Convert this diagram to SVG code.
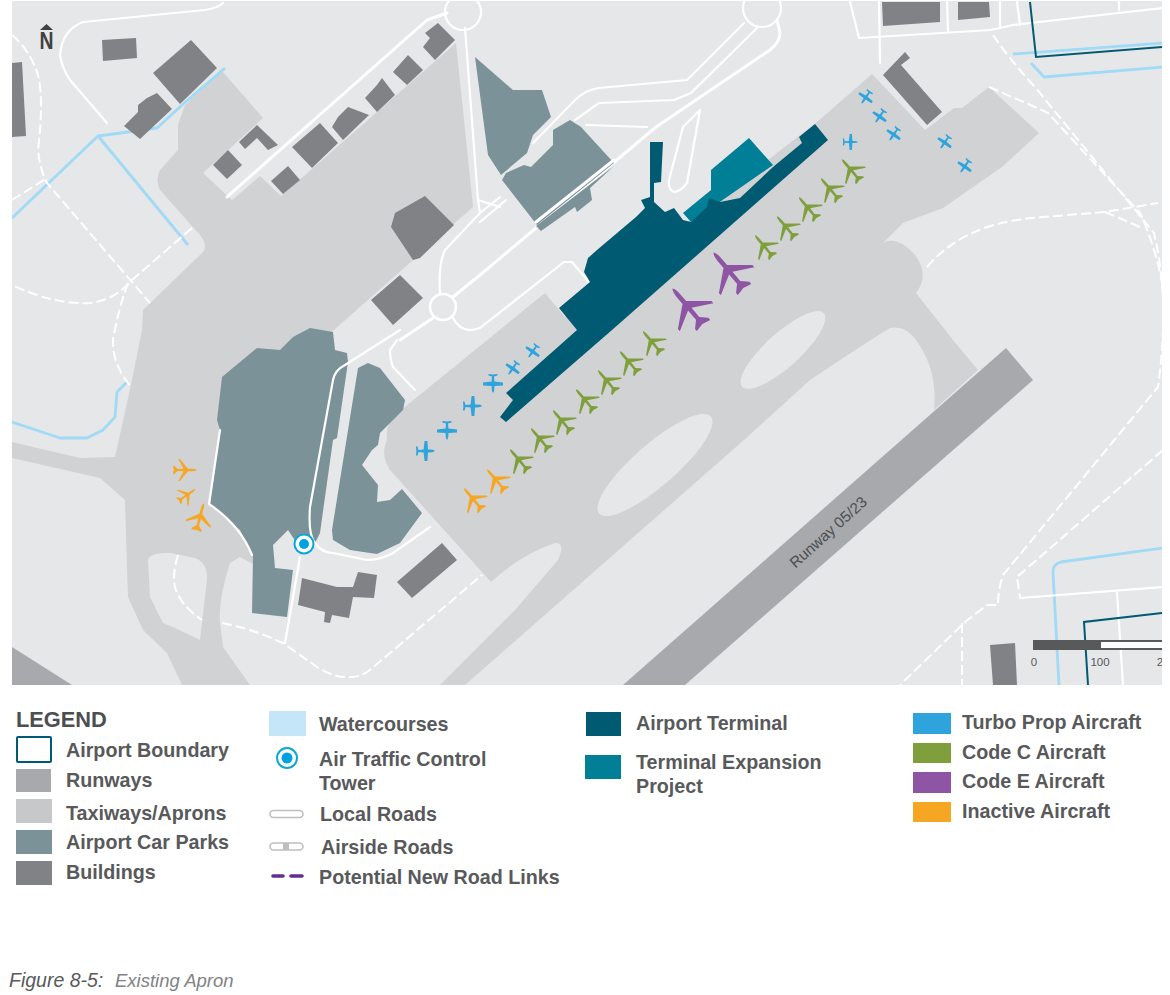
<svg xmlns="http://www.w3.org/2000/svg" xmlns:xlink="http://www.w3.org/1999/xlink" width="1170" height="995" viewBox="0 0 1170 995">
<style>
.tx{fill:#d1d2d4}.bg{fill:#e6e7e8}.rw{fill:#a7a9ac}.bd{fill:#808285}.cp{fill:#7c9299}
.r{fill:none;stroke:#fff;stroke-width:2.2;stroke-linecap:round;stroke-linejoin:round}
.d{fill:none;stroke:#fff;stroke-width:2;stroke-dasharray:10 4}
.w{fill:none;stroke:#a0daf6;stroke-width:2.8;stroke-linejoin:round}
.b{fill:none;stroke:#005a72;stroke-width:2}
.l{font:bold 19.7px "Liberation Sans",Arial,sans-serif;fill:#58595b}
.g{fill:#7f9f3c}.p{fill:#8e55a4}.o{fill:#f5a623}.t{fill:#2ea3dc}
</style>
<defs>
<clipPath id="mapclip"><rect x="12" y="1" width="1150" height="684"/></clipPath>
<path id="jet" d="M0,-10.5Q1,-9.5 1,-6L1,-2.5L9.5,4.5L9.5,5.8L1,1.2L.9,6.5L3.8,9.3L3.8,10.5L0,9.7L-3.8,10.5L-3.8,9.3L-.9,6.5L-1,1.2L-9.5,5.8L-9.5,4.5L-1,-2.5L-1,-6Q-1,-9.5 0,-10.5Z"/>
<path id="prop" d="M0,-10Q1.4,-9 1.4,-5L1.4,-3L10,-2.4L10,0.4L1.4,1.4L1,6.5L4.5,7.4L4.5,9L0,8.6L-4.5,9L-4.5,7.4L-1,6.5L-1.4,1.4L-10,0.4L-10,-2.4L-1.4,-3L-1.4,-5Q-1.4,-9 0,-10Z"/>
</defs>
<rect width="1170" height="995" fill="#fff"/>
<g id="map" clip-path="url(#mapclip)">
<rect x="12" y="1" width="1150" height="684" class="bg"/>
<g id="taxiways">
<path class="tx" d="M222,71L263,118L203,173L232,200L260,176L281,196L456,43L473,207L334,330L320,340L270,540L255,565L240,557L230,563Q218,600 220,623L223,647L250,685L182,685L167,653L143,630L128,597L127,567L125,500L100,478L12,458L12,442L80,458L115,457L132,380L142,330L143,310L203,252Q208,245 200,235L160,190Q155,180 160,170L178,150L178,125L185,105Z"/>
<path class="tx" d="M387,440Q385,425 395,415L545,293L565,317L817,122L872,74L925,130L954,108L962,108L989,87L1039,133L1002,167L943,208L903,223L883,243Q898,235 915,255Q930,275 916,293L953,340L978,370L934,410Q938,370 916,340Q905,325 890,328Q870,340 810,380L744,440L465,685L440,685L515,610L558,560Q566,542 555,543Q520,555 491,582L390,470Q380,455 387,440Z"/>
<path class="bg" d="M148,560Q150,552 170,553L195,558Q208,563 207,580L200,640L175,628L163,623L150,597Z"/>
<ellipse class="bg" cx="783" cy="350" rx="55" ry="17" transform="rotate(-42 783 350)"/>
<ellipse class="bg" cx="655" cy="465" rx="74" ry="21" transform="rotate(-41 655 465)"/>
</g>
<g id="runways">
<polygon class="rw" points="1006,348 1033,380 685,685 623,685"/>
<polygon class="rw" points="12,647 72,685 12,685"/>
<text transform="translate(829,533) rotate(-42)" text-anchor="middle" dominant-baseline="middle" style="font:15.3px 'Liberation Sans',Arial,sans-serif;fill:#4d4e50">Runway 05/23</text>
</g>
<g id="watercourses">
<path class="w" d="M225,68L182,105L157,128L128,132L98,136L12,218"/>
<path class="w" d="M98,136L188,245"/>
<path class="w" d="M127,382L117,392L115,417L103,430L87,438L60,438L12,422"/>
<path class="w" d="M1013,54L1163,43"/>
<path class="w" d="M1031,63L1044,77L1163,67"/>
<path class="w" d="M1163,548L1061,562Q1053,564 1053,572L1059,685"/>
</g>
<g id="dashed-roads">
<path class="d" d="M12,35Q30,50 38,75Q44,100 38,150Q40,170 47,183L150,303"/>
<path class="d" d="M12,200L47,178"/>
<path class="d" d="M192,228L132,280Q115,300 90,303Q55,305 12,285"/>
<path class="d" d="M128,283Q118,310 113,340Q112,365 132,388"/>
<path class="d" d="M178,555Q172,575 175,587Q180,605 202,620"/>
<path class="d" d="M222,623Q250,628 283,643L317,667Q335,678 347,677Q360,678 370,670L482,575"/>
<path class="d" d="M993,35Q1010,60 1035,87L1154,233Q1170,300 1158,387L1003,575Q998,590 998,605L987,605L965,622L900,685"/>
<path class="d" d="M962,623L962,685"/>
<path class="d" d="M1163,450L1017,577L1020,597"/>
<path class="d" d="M989,87L1035,107L1048,113L1140,213Q1155,245 1163,287"/>
<path class="d" d="M927,267Q950,240 987,227Q1010,220 1031,218L1105,212L1158,203"/>
<path class="d" d="M1105,212L1140,227"/>
</g>
<g id="roads">
<path class="r" d="M223,3Q218,8 205,10L83,22Q62,30 60,55Q62,68 70,80L107,123"/>
<path class="r" style="stroke-width:3" d="M227,197L427,20L447,13"/>
<circle class="r" cx="463" cy="12" r="18"/>
<circle class="r" cx="762" cy="8" r="19"/>
<path class="r" d="M465,28L478,200L480,213L445,250Q438,265 440,293"/>
<path class="r" d="M478,200L500,207M480,213L500,197"/>
<circle class="r" style="stroke-width:2.6" cx="443" cy="307" r="13"/>
<path class="r" style="stroke-width:3" d="M400,340L433,318M453,297L480,275L656,127L770,50Q780,42 780,33L777,20"/>
<path class="r" d="M480,222L506,200"/>
<path class="r" d="M533,143L575,100Q585,90 599,88L687,80L744,23"/>
<path class="r" d="M575,120L599,103L674,100L691,93L757,28"/>
<path class="r" d="M586,125L647,127"/>
<path class="r" d="M700,110L683,127L669,180Q668,190 674,192Q680,192 687,183L700,110"/>
<path class="r" d="M453,318Q462,335 480,328L564,262L572,262L589,282"/>
<path class="r" d="M397,340L390,350Q390,360 393,367L415,390"/>
<path class="r" d="M300,557L285,643"/>
<path class="r" d="M850,2L859,38L991,30L1013,25L1083,17L1163,8"/>
<path class="r" d="M879,2L880,63M947,0L948,32M1000,2L1000,27M1017,2L1020,25M1119,2L1119,10"/>
<path class="r" d="M1020,598L1163,587M1117,592L1123,685"/>
</g>
<g id="car-parks">
<path class="cp" d="M293,337L310,328L333,332L335,350L347,353L348,362L337,438L333,440L325,497L320,533L314,545L300,548L288,530L273,545L275,568L293,570L287,617L252,613L253,557L240,530L210,505L220,430L217,420L222,377L257,348L280,350Z"/>
<path class="cp" d="M358,368L368,363L380,368L405,400L403,410L380,433L378,445L372,450L362,465L378,485L377,502L390,500L402,489L422,513L400,543L377,554L350,550L333,540L332,530Z"/>
<path class="cp" d="M475,57L513,90L542,90L551,117L533,135L527,153L501,175L488,155Z"/>
<path class="cp" d="M570,120L581,127L614,163L537,225L502,180L506,173L524,165L531,167L553,145L553,130Z"/>
<path class="cp" d="M614,166L590,188L592,200L577,212L575,207L541,231L536,226Z"/>
<path class="r" d="M400,330L345,365Q335,370 333,380L310,507Q308,535 315,543Q322,553 333,553L367,560Q380,560 393,553L430,527"/>
<path class="r" d="M220,430L209,504Q240,525 252,555"/>
<path class="r" style="stroke-width:3" d="M536,222L614,160"/>
</g>
<g id="expansion"><path fill="#007f96" d="M749,138L773,165L691,222L683,213L711,190L711,170Z"/></g>
<g id="terminal"><path fill="#005a72" d="M650,142L663,142L661,182L654,183L654,202L665,212L674,208L683,220L691,222L707,207L709,198L720,202L740,198L773,167L802,143L799,137L815,124L828,140L612,330L506,422L500,417L513,400L506,393L577,330L559,308L590,282L584,272L588,258L597,250L636,217L645,208L641,200L650,197Z"/></g>
<g id="buildings" class="bd">
<polygon points="102,40 136,38 137,58 103,61"/>
<polygon points="191,40 217,68 180,104 153,73"/>
<polygon points="157,93 172,109 140,139 124,126 138,112 138,105 147,98"/>
<polygon points="12,63 22,62 26,136 12,137"/>
<polygon points="257,125 278,145 268,150 257,138 245,149 239,142"/>
<polygon points="228,150 242,165 227,179 213,165"/>
<polygon points="288,166 300,180 283,194 271,181"/>
<polygon points="320,123 338,143 312,168 292,147"/>
<polygon points="348,107 369,115 343,140 332,127 338,117 343,112"/>
<polygon points="382,78 395,95 377,112 365,98 377,85"/>
<polygon points="408,55 423,70 407,85 393,72"/>
<polygon points="438,23 455,40 435,60 423,47 430,38 425,33"/>
<polygon points="425,196 454,225 420,258 413,260 391,227 395,213"/>
<polygon points="400,275 423,298 393,325 371,300"/>
<polygon points="442,543 457,560 412,598 397,582"/>
<polygon points="302,578 337,587 353,587 358,572 377,575 374,598 353,597 349,618 332,615 330,623 324,622 325,612 298,605"/>
<polygon points="882,2 940,2 940,22 883,26"/>
<polygon points="958,2 989,2 990,17 958,20"/>
<polygon points="905,52 910,58 901,65 942,112 927,125 883,75"/>
<polygon points="990,645 1015,643 1017,685 993,685"/>
</g>
<g id="boundary">
<path class="b" d="M1030,2L1036,57L1163,47"/>
<path class="b" d="M1163,613L1084,622L1088,685"/>
</g>
<g id="aircraft-turboprop" class="t">
<use href="#prop" transform="translate(425,451) rotate(90)"/>
<use href="#prop" transform="translate(447,430) rotate(180)"/>
<use href="#prop" transform="translate(472,406) rotate(90)"/>
<use href="#prop" transform="translate(493,383) rotate(180)"/>
<use href="#prop" transform="translate(513,368) rotate(215) scale(.8)"/>
<use href="#prop" transform="translate(533,351) rotate(215) scale(.8)"/>
<use href="#prop" transform="translate(850,142) rotate(90) scale(.8)"/>
<use href="#prop" transform="translate(866,97) rotate(215) scale(.8)"/>
<use href="#prop" transform="translate(880,116) rotate(215) scale(.8)"/>
<use href="#prop" transform="translate(894,134) rotate(215) scale(.8)"/>
<use href="#prop" transform="translate(945,142) rotate(215) scale(.8)"/>
<use href="#prop" transform="translate(965,166) rotate(215) scale(.8)"/>
</g>
<g id="aircraft-code-c" class="g">
<use href="#jet" transform="translate(851,170) rotate(-40) scale(1.35)"/>
<use href="#jet" transform="translate(830,189) rotate(-40) scale(1.35)"/>
<use href="#jet" transform="translate(808,208) rotate(-40) scale(1.35)"/>
<use href="#jet" transform="translate(786,227) rotate(-40) scale(1.35)"/>
<use href="#jet" transform="translate(764,246) rotate(-40) scale(1.35)"/>
<use href="#jet" transform="translate(652,342) rotate(-40) scale(1.35)"/>
<use href="#jet" transform="translate(629,362) rotate(-40) scale(1.35)"/>
<use href="#jet" transform="translate(607,381) rotate(-40) scale(1.35)"/>
<use href="#jet" transform="translate(585,400) rotate(-40) scale(1.35)"/>
<use href="#jet" transform="translate(562,421) rotate(-40) scale(1.35)"/>
<use href="#jet" transform="translate(540,439) rotate(-40) scale(1.35)"/>
<use href="#jet" transform="translate(519,460) rotate(-40) scale(1.35)"/>
</g>
<g id="aircraft-code-e" class="p">
<use href="#jet" transform="translate(729,271) rotate(-40) scale(2.3)"/>
<use href="#jet" transform="translate(688,307) rotate(-40) scale(2.3)"/>
</g>
<g id="aircraft-inactive" class="o">
<use href="#jet" transform="translate(496,480) rotate(-40) scale(1.35)"/>
<use href="#jet" transform="translate(473,499) rotate(-40) scale(1.35)"/>
<use href="#jet" transform="translate(185,470) rotate(90) scale(1.15)"/>
<use href="#jet" transform="translate(187,495) rotate(55) scale(1)"/>
<use href="#jet" transform="translate(200,517) rotate(15) scale(1.35)"/>
</g>
<g id="tower">
<circle cx="304" cy="544" r="9.5" fill="#fff" stroke="#0aa7d6" stroke-width="2"/>
<circle cx="304" cy="544" r="5" fill="#00a3e0"/>
</g>
<g id="north">
<polygon points="40,30 53,30 46.5,24" fill="#414042"/>
<text x="46.5" y="49" text-anchor="middle" textLength="14" lengthAdjust="spacingAndGlyphs" style="font:bold 23px 'Liberation Sans',Arial,sans-serif;fill:#414042">N</text>
</g>
<g id="scale-bar">
<rect x="1033" y="640" width="135" height="10" fill="#58595b"/>
<rect x="1101" y="642" width="65" height="6" fill="#fff"/>
<g style="font:11.5px 'Liberation Sans',Arial,sans-serif;fill:#58595b" text-anchor="middle">
<text x="1034" y="666">0</text><text x="1100" y="666">100</text><text x="1160" y="666">2</text>
</g>
</g>
</g>
<g id="legend">
<text x="16" y="727" style="font:bold 21.8px 'Liberation Sans',Arial,sans-serif;fill:#4d4e50">LEGEND</text>
<g id="lg-boundary"><rect x="17" y="737" width="34" height="25" rx="1" fill="#fff" stroke="#005a72" stroke-width="2"/><text class="l" x="66" y="757">Airport Boundary</text></g>
<g id="lg-runways"><rect x="16" y="769" width="35" height="23" fill="#a7a9ac"/><text class="l" x="66" y="787">Runways</text></g>
<g id="lg-taxiways"><rect x="16" y="799" width="36" height="24" fill="#c7c8ca"/><text class="l" x="66" y="820">Taxiways/Aprons</text></g>
<g id="lg-carparks"><rect x="16" y="830" width="36" height="24" fill="#7c9299"/><text class="l" x="66" y="849">Airport Car Parks</text></g>
<g id="lg-buildings"><rect x="16" y="861" width="36" height="24" fill="#808285"/><text class="l" x="66" y="879">Buildings</text></g>
<g id="lg-water"><rect x="269" y="711" width="37" height="25" fill="#c5e6f8"/><text class="l" x="319" y="731">Watercourses</text></g>
<g id="lg-tower"><circle cx="287" cy="758" r="10" fill="#fff" stroke="#0aa7d6" stroke-width="2"/><circle cx="287" cy="758" r="5.5" fill="#00a3e0"/><text class="l" x="319" y="766">Air Traffic Control</text><text class="l" x="319" y="790">Tower</text></g>
<g id="lg-local"><rect x="270" y="810.5" width="33" height="7" rx="3.5" fill="#fff" stroke="#bcbec0" stroke-width="1.6"/><text class="l" x="320" y="821">Local Roads</text></g>
<g id="lg-airside"><rect x="270" y="843" width="33" height="7" rx="3.5" fill="#fff" stroke="#bcbec0" stroke-width="1.6"/><rect x="283" y="843" width="6" height="7" fill="#bcbec0"/><text class="l" x="321" y="854">Airside Roads</text></g>
<g id="lg-new"><path d="M273,876H283M291,876H302" stroke="#662d91" stroke-width="3.6" stroke-linecap="round" fill="none"/><text class="l" x="319" y="884">Potential New Road Links</text></g>
<g id="lg-terminal"><rect x="586" y="712" width="35" height="24" fill="#005a72"/><text class="l" x="636" y="730">Airport Terminal</text></g>
<g id="lg-expansion"><rect x="585" y="755" width="36" height="24" fill="#007f96"/><text class="l" x="636" y="769">Terminal Expansion</text><text class="l" x="636" y="793">Project</text></g>
<g id="lg-turbo"><rect x="913" y="713" width="38" height="21" fill="#2ea3dc"/><text class="l" x="962" y="729">Turbo Prop Aircraft</text></g>
<g id="lg-codec"><rect x="913" y="743" width="38" height="20" fill="#7f9f3c"/><text class="l" x="962" y="759">Code C Aircraft</text></g>
<g id="lg-codee"><rect x="913" y="772" width="38" height="21" fill="#8e55a4"/><text class="l" x="962" y="788">Code E Aircraft</text></g>
<g id="lg-inactive"><rect x="913" y="802" width="38" height="20" fill="#f5a623"/><text class="l" x="962" y="818">Inactive Aircraft</text></g>
</g>
<g id="caption">
<text x="9" y="987" style="font:italic 19.5px 'Liberation Sans',Arial,sans-serif;fill:#58595b">Figure 8-5:</text>
<text x="115" y="987" style="font:italic 18.5px 'Liberation Sans',Arial,sans-serif;fill:#808285">Existing Apron</text>
</g>
</svg>
